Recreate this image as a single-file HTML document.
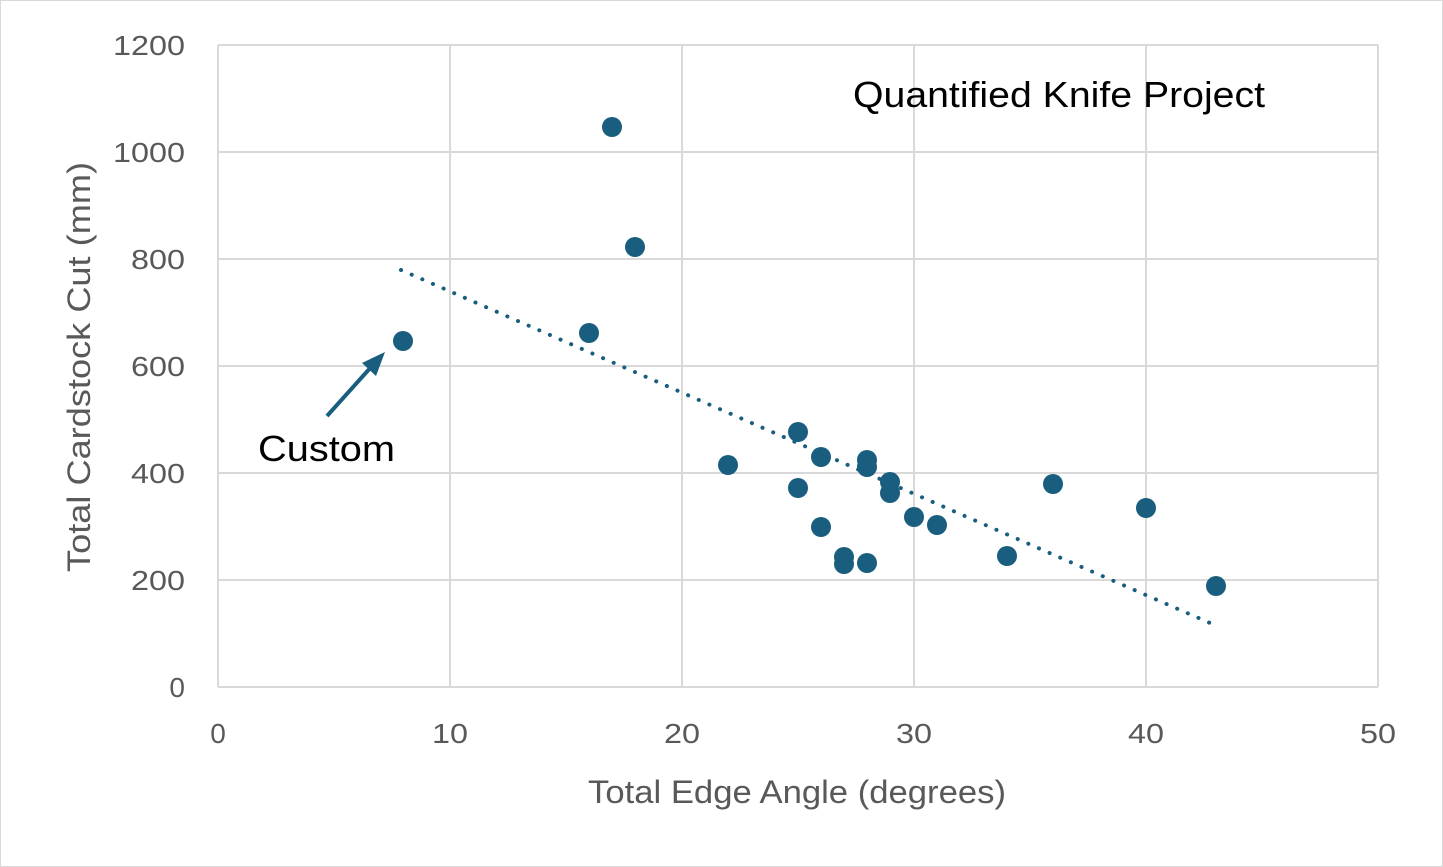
<!DOCTYPE html>
<html><head><meta charset="utf-8"><style>
html,body{margin:0;padding:0;background:#fff;}
svg{display:block;}
text{font-family:"Liberation Sans",sans-serif;}
</style></head><body>
<svg width="1443" height="867" viewBox="0 0 1443 867" xmlns="http://www.w3.org/2000/svg">
<rect x="0.5" y="0.5" width="1442" height="866" fill="#fff" stroke="#d9d9d9"/>
<g stroke="#d9d9d9" stroke-width="2">
<line x1="218" y1="45" x2="1378" y2="45"/>
<line x1="218" y1="152" x2="1378" y2="152"/>
<line x1="218" y1="259" x2="1378" y2="259"/>
<line x1="218" y1="366" x2="1378" y2="366"/>
<line x1="218" y1="473" x2="1378" y2="473"/>
<line x1="218" y1="580" x2="1378" y2="580"/>
<line x1="450" y1="45" x2="450" y2="687"/>
<line x1="682" y1="45" x2="682" y2="687"/>
<line x1="914" y1="45" x2="914" y2="687"/>
<line x1="1146" y1="45" x2="1146" y2="687"/>
<line x1="1378" y1="45" x2="1378" y2="687"/>
<line x1="218" y1="45" x2="218" y2="687"/>
<line x1="218" y1="687" x2="1378" y2="687"/>
</g>
<g font-size="28" fill="#595959" text-anchor="end">
<text x="185" y="55" textLength="72" lengthAdjust="spacingAndGlyphs">1200</text>
<text x="185" y="162" textLength="72" lengthAdjust="spacingAndGlyphs">1000</text>
<text x="185" y="269" textLength="54" lengthAdjust="spacingAndGlyphs">800</text>
<text x="185" y="376" textLength="54" lengthAdjust="spacingAndGlyphs">600</text>
<text x="185" y="483" textLength="54" lengthAdjust="spacingAndGlyphs">400</text>
<text x="185" y="590" textLength="54" lengthAdjust="spacingAndGlyphs">200</text>
<text x="185" y="697">0</text>
</g>
<g font-size="28" fill="#595959" text-anchor="middle">
<text x="218" y="743">0</text>
<text x="450" y="743" textLength="36" lengthAdjust="spacingAndGlyphs">10</text>
<text x="682" y="743" textLength="36" lengthAdjust="spacingAndGlyphs">20</text>
<text x="914" y="743" textLength="36" lengthAdjust="spacingAndGlyphs">30</text>
<text x="1146" y="743" textLength="36" lengthAdjust="spacingAndGlyphs">40</text>
<text x="1378" y="743" textLength="36" lengthAdjust="spacingAndGlyphs">50</text>
<text x="797" y="803" font-size="32" textLength="418" lengthAdjust="spacingAndGlyphs">Total Edge Angle (degrees)</text>
<text transform="translate(90,367) rotate(-90)" font-size="32" textLength="410" lengthAdjust="spacingAndGlyphs">Total Cardstock Cut (mm)</text>
</g>
<text x="853" y="107" font-size="36" fill="#000" textLength="412" lengthAdjust="spacingAndGlyphs">Quantified Knife Project</text>
<text x="258" y="461" font-size="36" fill="#000" textLength="137" lengthAdjust="spacingAndGlyphs">Custom</text>
<line x1="327" y1="416" x2="372" y2="366" stroke="#195e7e" stroke-width="4"/>
<polygon points="385,352 362,363 376,376" fill="#195e7e"/>
<line x1="401" y1="270" x2="1210" y2="623" stroke="#195e7e" stroke-width="4" stroke-dasharray="0.1 11.5" stroke-linecap="round"/>
<g fill="#195e7e">
<circle cx="403" cy="341" r="10"/><circle cx="612" cy="127" r="10"/><circle cx="635" cy="247" r="10"/>
<circle cx="589" cy="333" r="10"/><circle cx="728" cy="465" r="10"/><circle cx="798" cy="432" r="10"/>
<circle cx="798" cy="488" r="10"/><circle cx="821" cy="457" r="10"/><circle cx="821" cy="527" r="10"/>
<circle cx="844" cy="557" r="10"/><circle cx="844" cy="564" r="10"/><circle cx="867" cy="460" r="10"/>
<circle cx="867" cy="467" r="10"/><circle cx="867" cy="563" r="10"/><circle cx="890" cy="482" r="10"/>
<circle cx="890" cy="493" r="10"/><circle cx="914" cy="517" r="10"/><circle cx="937" cy="525" r="10"/>
<circle cx="1007" cy="556" r="10"/><circle cx="1053" cy="484" r="10"/><circle cx="1146" cy="508" r="10"/>
<circle cx="1216" cy="586" r="10"/>
</g>
</svg>
</body></html>
